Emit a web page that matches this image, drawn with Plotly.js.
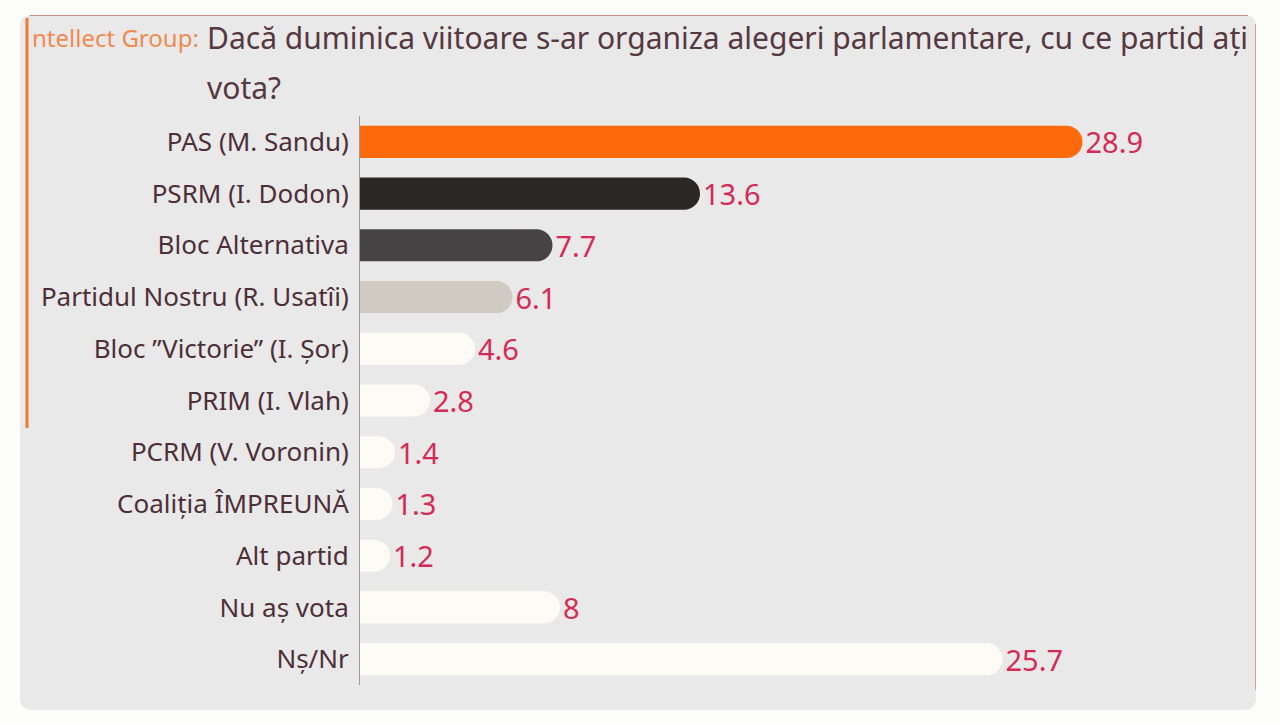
<!DOCTYPE html>
<html>
<head>
<meta charset="utf-8">
<script src="https://cdn.plot.ly/plotly-3.0.1.min.js"></script>
<style>
html,body{margin:0;padding:0;background:#fdfdfb;}
#chart{width:1280px;height:724px;}
</style>
</head>
<body>
<div id="chart"></div>
<script>
const categories = ["PAS (M. Sandu)", "PSRM (I. Dodon)", "Bloc Alternativa", "Partidul Nostru (R. Usatîi)", "Bloc \u201dVictorie\u201d (I. Șor)", "PRIM (I. Vlah)", "PCRM (V. Voronin)", "Coaliția ÎMPREUNĂ", "Alt partid", "Nu aș vota", "Nș/Nr"];
const values = [28.9, 13.6, 7.7, 6.1, 4.6, 2.8, 1.4, 1.3, 1.2, 8, 25.7];
const barColors = ["#ff6a0d", "#2b2727", "#454343", "#cfcbc3", "#fdfbf5", "#fdfbf5", "#fdfbf5", "#fdfbf5", "#fdfbf5", "#fdfbf5", "#fdfbf5"];
const titlePrefix = "ntellect Group:";
const titleLine1 = "Dacă duminica viitoare s-ar organiza alegeri parlamentare, cu ce partid ați";
const titleLine2 = "vota?";

const W = 1280, H = 724;
const ml = 360, mr = 40, mt = 116, mb = 39;
const pw = W - ml - mr, ph = H - mt - mb;
const px = x => (x - ml) / pw;
const py = y => 1 - (y - mt) / ph;

const FONT = "Noto Sans, sans-serif";

function roundedRect(x0, y0, x1, y1, r) {
  const a = px(x0), b = px(x1), c = py(y0), d = py(y1);
  const rx = r / pw, ry = r / ph;
  return `M${a + rx},${c} L${b - rx},${c} Q${b},${c} ${b},${c - ry} L${b},${d + ry} Q${b},${d} ${b - rx},${d} L${a + rx},${d} Q${a},${d} ${a},${d + ry} L${a},${c - ry} Q${a},${c} ${a + rx},${c} Z`;
}

const trace = {
  type: "bar",
  orientation: "h",
  y: categories,
  x: values,
  marker: {color: barColors, cornerradius: 16, line: {width: 0}},
  width: 0.62,
  texttemplate: "%{x}",
  textposition: "outside",
  constraintext: "none",
  cliponaxis: false,
  textfont: {family: FONT, size: 29, color: "#d52a55"},
  hoverinfo: "skip"
};

const layout = {
  width: W, height: H,
  margin: {l: ml, r: mr, t: mt, b: mb, pad: 0},
  paper_bgcolor: "#fdfdfb",
  plot_bgcolor: "rgba(0,0,0,0)",
  showlegend: false,
  font: {family: FONT},
  xaxis: {range: [0, pw / 25], showgrid: false, zeroline: false, showticklabels: false, showline: false, fixedrange: true},
  yaxis: {
    autorange: "reversed",
    showgrid: false, zeroline: false,
    showline: true, linecolor: "#9c9a9a", linewidth: 1,
    ticks: "", ticklabelstandoff: 5,
    tickfont: {family: FONT, size: 26, color: "#4d2f38"},
    fixedrange: true
  },
  shapes: [
    {type: "path", xref: "paper", yref: "paper", layer: "below", path: roundedRect(20, 15, 1256, 710, 12), fillcolor: "#e9e9e9", line: {width: 0}},
    {type: "line", xref: "paper", yref: "paper", layer: "below", x0: px(30), x1: px(1248), y0: py(15.5), y1: py(15.5), line: {color: "#c98b80", width: 1}},
    {type: "line", xref: "paper", yref: "paper", layer: "below", x0: px(1255.5), x1: px(1255.5), y0: py(24), y1: py(690), line: {color: "#d9a095", width: 1}},
    {type: "line", xref: "paper", yref: "paper", layer: "above", x0: px(27), x1: px(27), y0: py(18), y1: py(428), line: {color: "#f07a30", width: 3}}
  ],
  annotations: [
    {xref: "paper", yref: "paper", x: px(30), y: py(38), xanchor: "left", yanchor: "middle", showarrow: false, text: titlePrefix, font: {family: FONT, size: 24, color: "#f08a50"}},
    {xref: "paper", yref: "paper", x: px(205), y: py(38), xanchor: "left", yanchor: "middle", showarrow: false, text: titleLine1, font: {family: FONT, size: 30, color: "#553840"}},
    {xref: "paper", yref: "paper", x: px(205), y: py(87), xanchor: "left", yanchor: "middle", showarrow: false, text: titleLine2, font: {family: FONT, size: 30, color: "#553840"}}
  ]
};

Plotly.newPlot("chart", [trace], layout, {displayModeBar: false, staticPlot: true});
</script>
</body>
</html>
